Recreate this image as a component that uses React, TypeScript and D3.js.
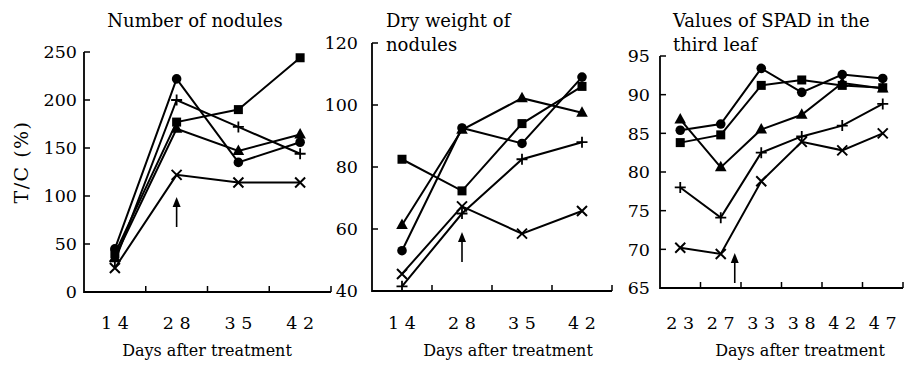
import React from "react";
import * as d3 from "d3";

// ---------- Data ----------
const days1 = ["14", "28", "35", "42"];
const nodCircle = [45, 222, 135, 156];
const nodSquare = [40, 177, 190, 244];
const nodTriangle = [36, 170, 147, 164];
const nodPlus = [32, 200, 172, 144];
const nodCross = [25, 122, 114, 114];

const dwCircle = [53, 92.6, 87.6, 109];
const dwSquare = [82.5, 72.3, 94, 106];
const dwTriangle = [61.3, 92, 102.2, 97.5];
const dwPlus = [41.5, 65, 82.5, 88];
const dwCross = [45.5, 67.3, 58.5, 65.8];

const days3 = ["23", "27", "33", "38", "42", "47"];
const spCircle = [85.4, 86.2, 93.4, 90.3, 92.6, 92.1];
const spSquare = [83.8, 84.8, 91.2, 91.9, 91.2, 90.9];
const spTriangle = [86.8, 80.6, 85.5, 87.4, 91.5, 90.8];
const spPlus = [78, 74.1, 82.5, 84.6, 86, 88.8];
const spCross = [70.2, 69.4, 78.8, 83.9, 82.8, 85];

const ticks1 = [0, 50, 100, 150, 200, 250];
const ticks2 = [40, 60, 80, 100, 120];
const ticks3 = [65, 70, 75, 80, 85, 90, 95];

type Marker = "circle" | "square" | "triangle" | "plus" | "cross";
const markerOrder: Marker[] = ["circle", "square", "triangle", "plus", "cross"];

const FONT = "'DejaVu Serif', serif";

function MarkerShape({ type, x, y }: { type: Marker; x: number; y: number }) {
  if (type === "circle") return <circle cx={x} cy={y} r={4.8} fill="#000" />;
  if (type === "square") return <rect x={x - 4.5} y={y - 4.5} width={9} height={9} fill="#000" />;
  if (type === "triangle")
    return <path d={`M${x},${y - 6.5}L${x + 5.8},${y + 4}L${x - 5.8},${y + 4}Z`} fill="#000" />;
  if (type === "plus")
    return (
      <path d={`M${x - 5.5},${y}H${x + 5.5}M${x},${y - 5.5}V${y + 5.5}`} stroke="#000" strokeWidth={1.8} />
    );
  return (
    <path
      d={`M${x - 5},${y - 5}L${x + 5},${y + 5}M${x - 5},${y + 5}L${x + 5},${y - 5}`}
      stroke="#000"
      strokeWidth={2}
    />
  );
}

interface PanelProps {
  cats: string[];
  series: number[][];
  ticks: number[];
  domain: [number, number];
  x0: number;
  x1: number;
  yTop: number;
  yBottom: number;
  labelGap: number;
  titleLines: string[];
  titleX: number;
  titleAnchor: "start" | "middle";
  arrowIndex: number;
  arrowOffset: number;
  arrowTop: number;
  xLabelX: number;
}

function Panel(p: PanelProps) {
  const x = d3.scaleBand<string>().domain(p.cats).range([p.x0, p.x1]);
  const y = d3.scaleLinear().domain(p.domain).range([p.yBottom, p.yTop]);
  const line = d3
    .line<[number, number]>()
    .x((d) => d[0])
    .y((d) => d[1]);
  const cx = (c: string) => (x(c) ?? 0) + x.bandwidth() / 2;
  const boundaries = p.cats.slice(1).map((c) => x(c) ?? 0);
  const ax = cx(p.cats[p.arrowIndex]) + p.arrowOffset;
  return (
    <g fontFamily={FONT} fill="#000">
      {p.titleLines.map((t, i) => (
        <text key={i} x={p.titleX} y={27 + i * 24} fontSize={18} textAnchor={p.titleAnchor}>
          {t}
        </text>
      ))}
      <path
        d={`M${p.x0},${p.yTop}V${p.yBottom}H${p.x1}`}
        fill="none"
        stroke="#000"
        strokeWidth={1.8}
      />
      {p.ticks.map((t) => (
        <g key={t}>
          <line x1={p.x0} x2={p.x0 + 6} y1={y(t)} y2={y(t)} stroke="#000" strokeWidth={1.5} />
          <text x={p.x0 - p.labelGap} y={y(t)} dy="0.36em" fontSize={17.5} textAnchor="end">
            {t}
          </text>
        </g>
      ))}
      {boundaries.concat([p.x1]).map((b, i) => (
        <line key={i} x1={b} x2={b} y1={p.yBottom} y2={p.yBottom - 6} stroke="#000" strokeWidth={1.5} />
      ))}
      {p.cats.map((c) => (
        <text key={c} x={cx(c)} y={329} fontSize={17.5} textAnchor="middle">
          {c.split("").join(" ")}
        </text>
      ))}
      <text x={p.xLabelX} y={356} fontSize={16} textAnchor="middle">
        Days after treatment
      </text>
      {p.series.map((s, si) => {
        const pts: [number, number][] = s.map((v, i) => [cx(p.cats[i]), y(v)]);
        return (
          <g key={si}>
            <path d={line(pts) ?? ""} fill="none" stroke="#000" strokeWidth={2} />
            {pts.map((pt, i) => (
              <MarkerShape key={i} type={markerOrder[si]} x={pt[0]} y={pt[1]} />
            ))}
          </g>
        );
      })}
      <line x1={ax} x2={ax} y1={p.arrowTop + 6} y2={p.arrowTop + 30} stroke="#000" strokeWidth={1.6} />
      <path d={`M${ax},${p.arrowTop}L${ax + 4},${p.arrowTop + 10}L${ax - 4},${p.arrowTop + 10}Z`} fill="#000" />
    </g>
  );
}

export default function App() {
  return (
    <svg width={904} height={365} style={{ position: "absolute", left: 0, top: 0, background: "#fff" }}>
      <rect width={904} height={365} fill="#fff" />
      <text
        transform="translate(28,162) rotate(-90)"
        fontFamily={FONT}
        fontSize={19}
        letterSpacing={1.5}
        textAnchor="middle"
      >
        T/C (%)
      </text>
      <Panel
        cats={days1}
        series={[nodCircle, nodSquare, nodTriangle, nodPlus, nodCross]}
        ticks={ticks1}
        domain={[0, 250]}
        x0={84}
        x1={331}
        yTop={52}
        yBottom={292}
        labelGap={7}
        titleLines={["Number of nodules"]}
        titleX={195}
        titleAnchor="middle"
        arrowIndex={1}
        arrowOffset={0}
        arrowTop={197}
        xLabelX={207}
      />
      <Panel
        cats={days1}
        series={[dwCircle, dwSquare, dwTriangle, dwPlus, dwCross]}
        ticks={ticks2}
        domain={[40, 120]}
        x0={372}
        x1={612}
        yTop={43}
        yBottom={291}
        labelGap={14}
        titleLines={["Dry weight of", "nodules"]}
        titleX={386}
        titleAnchor="start"
        arrowIndex={1}
        arrowOffset={0}
        arrowTop={232}
        xLabelX={508}
      />
      <Panel
        cats={days3}
        series={[spCircle, spSquare, spTriangle, spPlus, spCross]}
        ticks={ticks3}
        domain={[65, 95]}
        x0={660}
        x1={903}
        yTop={56}
        yBottom={288}
        labelGap={10}
        titleLines={["Values of SPAD in the", "third leaf"]}
        titleX={673}
        titleAnchor="start"
        arrowIndex={1}
        arrowOffset={14}
        arrowTop={253}
        xLabelX={800}
      />
    </svg>
  );
}
